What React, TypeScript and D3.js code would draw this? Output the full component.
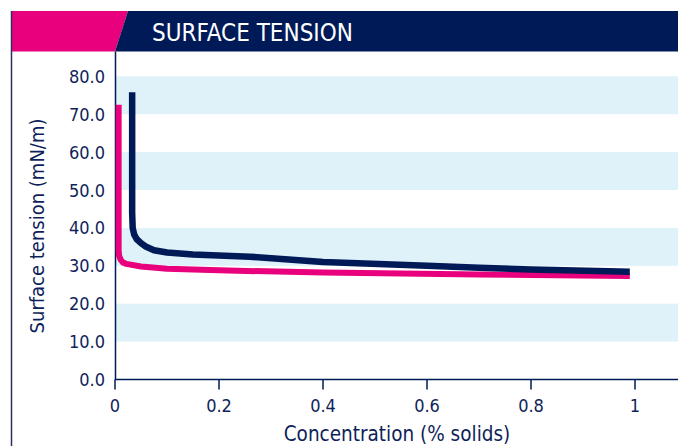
import React from "react";
import * as d3 from "d3";

const title = "SURFACE TENSION";
const xTicks = [0, 0.2, 0.4, 0.6, 0.8, 1];
const xTickLabels = ["0", "0.2", "0.4", "0.6", "0.8", "1"];
const yTicks = [0, 10, 20, 30, 40, 50, 60, 70, 80];
const bands = [[10, 20], [30, 40], [50, 60], [70, 80]];

const navyX = [0.033, 0.033, 0.034, 0.037, 0.042, 0.05, 0.06, 0.075, 0.1, 0.15, 0.26, 0.4, 0.6, 0.7, 0.8, 0.99];
const navyY = [75.8, 44, 40, 38.2, 37.0, 36.0, 35.0, 34.1, 33.5, 33.0, 32.4, 31.0, 30.0, 29.5, 29.0, 28.4];
const pinkX = [0.007, 0.007, 0.008, 0.011, 0.015, 0.022, 0.05, 0.1, 0.2, 0.4, 0.7, 0.99];
const pinkY = [72.5, 34, 32.6, 31.6, 30.9, 30.5, 29.8, 29.2, 28.8, 28.2, 27.7, 27.3];

const NAVY = "#001a57";
const PINK = "#e8007c";
const BAND = "#dff1f9";
const TEXT = "#0f1f5a";
const FONT = "'DejaVu Sans Condensed', 'DejaVu Sans', sans-serif";

export default function App() {
  const W = 678, H = 446;
  const x = d3.scaleLinear().domain([0, 1]).range([115, 635]);
  const y = d3.scaleLinear().domain([0, 80]).range([379.5, 76.3]);
  const line = d3.line<[number, number]>().x(d => x(d[0])).y(d => y(d[1])).curve(d3.curveLinear);
  const navyPts: [number, number][] = navyX.map((v, i) => [v, navyY[i]]);
  const pinkPts: [number, number][] = pinkX.map((v, i) => [v, pinkY[i]]);
  return (
    <svg width={W} height={H} style={{ position: "absolute", left: 0, top: 0 }} fontFamily={FONT}>
      <rect x={0} y={0} width={W} height={H} fill="#fff" />
      {bands.map(([a, b], i) => (
        <rect key={i} x={115} y={y(b)} width={W - 115} height={y(a) - y(b)} fill={BAND} />
      ))}
      <polygon points="11,11 128,11 115,51.5 11,51.5" fill={PINK} />
      <polygon points="128,11 678,11 678,51.5 115,51.5" fill={NAVY} />
      <text x={152} y={41} fill="#fff" fontSize={24}>{title}</text>
      <line x1={11.5} x2={11.5} y1={11} y2={H} stroke="#2a2f66" strokeWidth={1.5} />
      <line x1={115.5} x2={115.5} y1={51.5} y2={380} stroke={NAVY} strokeWidth={1.5} />
      <line x1={115} x2={W} y1={379.5} y2={379.5} stroke={NAVY} strokeWidth={1.5} />
      {xTicks.map((t, i) => (
        <g key={i}>
          <line x1={x(t)} x2={x(t)} y1={379.5} y2={389.5} stroke={NAVY} strokeWidth={1.5} />
          <text x={x(t)} y={412} textAnchor="middle" fill={TEXT} fontSize={18}>{xTickLabels[i]}</text>
        </g>
      ))}
      {yTicks.map((t, i) => (
        <text key={i} x={105} y={y(t) + 6.5} textAnchor="end" fill={TEXT} fontSize={18}>{t.toFixed(1)}</text>
      ))}
      <path d={line(pinkPts) || ""} fill="none" stroke={PINK} strokeWidth={6} strokeLinejoin="round" />
      <path d={line(navyPts) || ""} fill="none" stroke={NAVY} strokeWidth={6.5} strokeLinejoin="round" />
      <text x={397} y={441} textAnchor="middle" fill={TEXT} fontSize={20.5}>Concentration (% solids)</text>
      <text transform="translate(44,226) rotate(-90)" textAnchor="middle" fill={TEXT} fontSize={20}>Surface tension (mN/m)</text>
    </svg>
  );
}
